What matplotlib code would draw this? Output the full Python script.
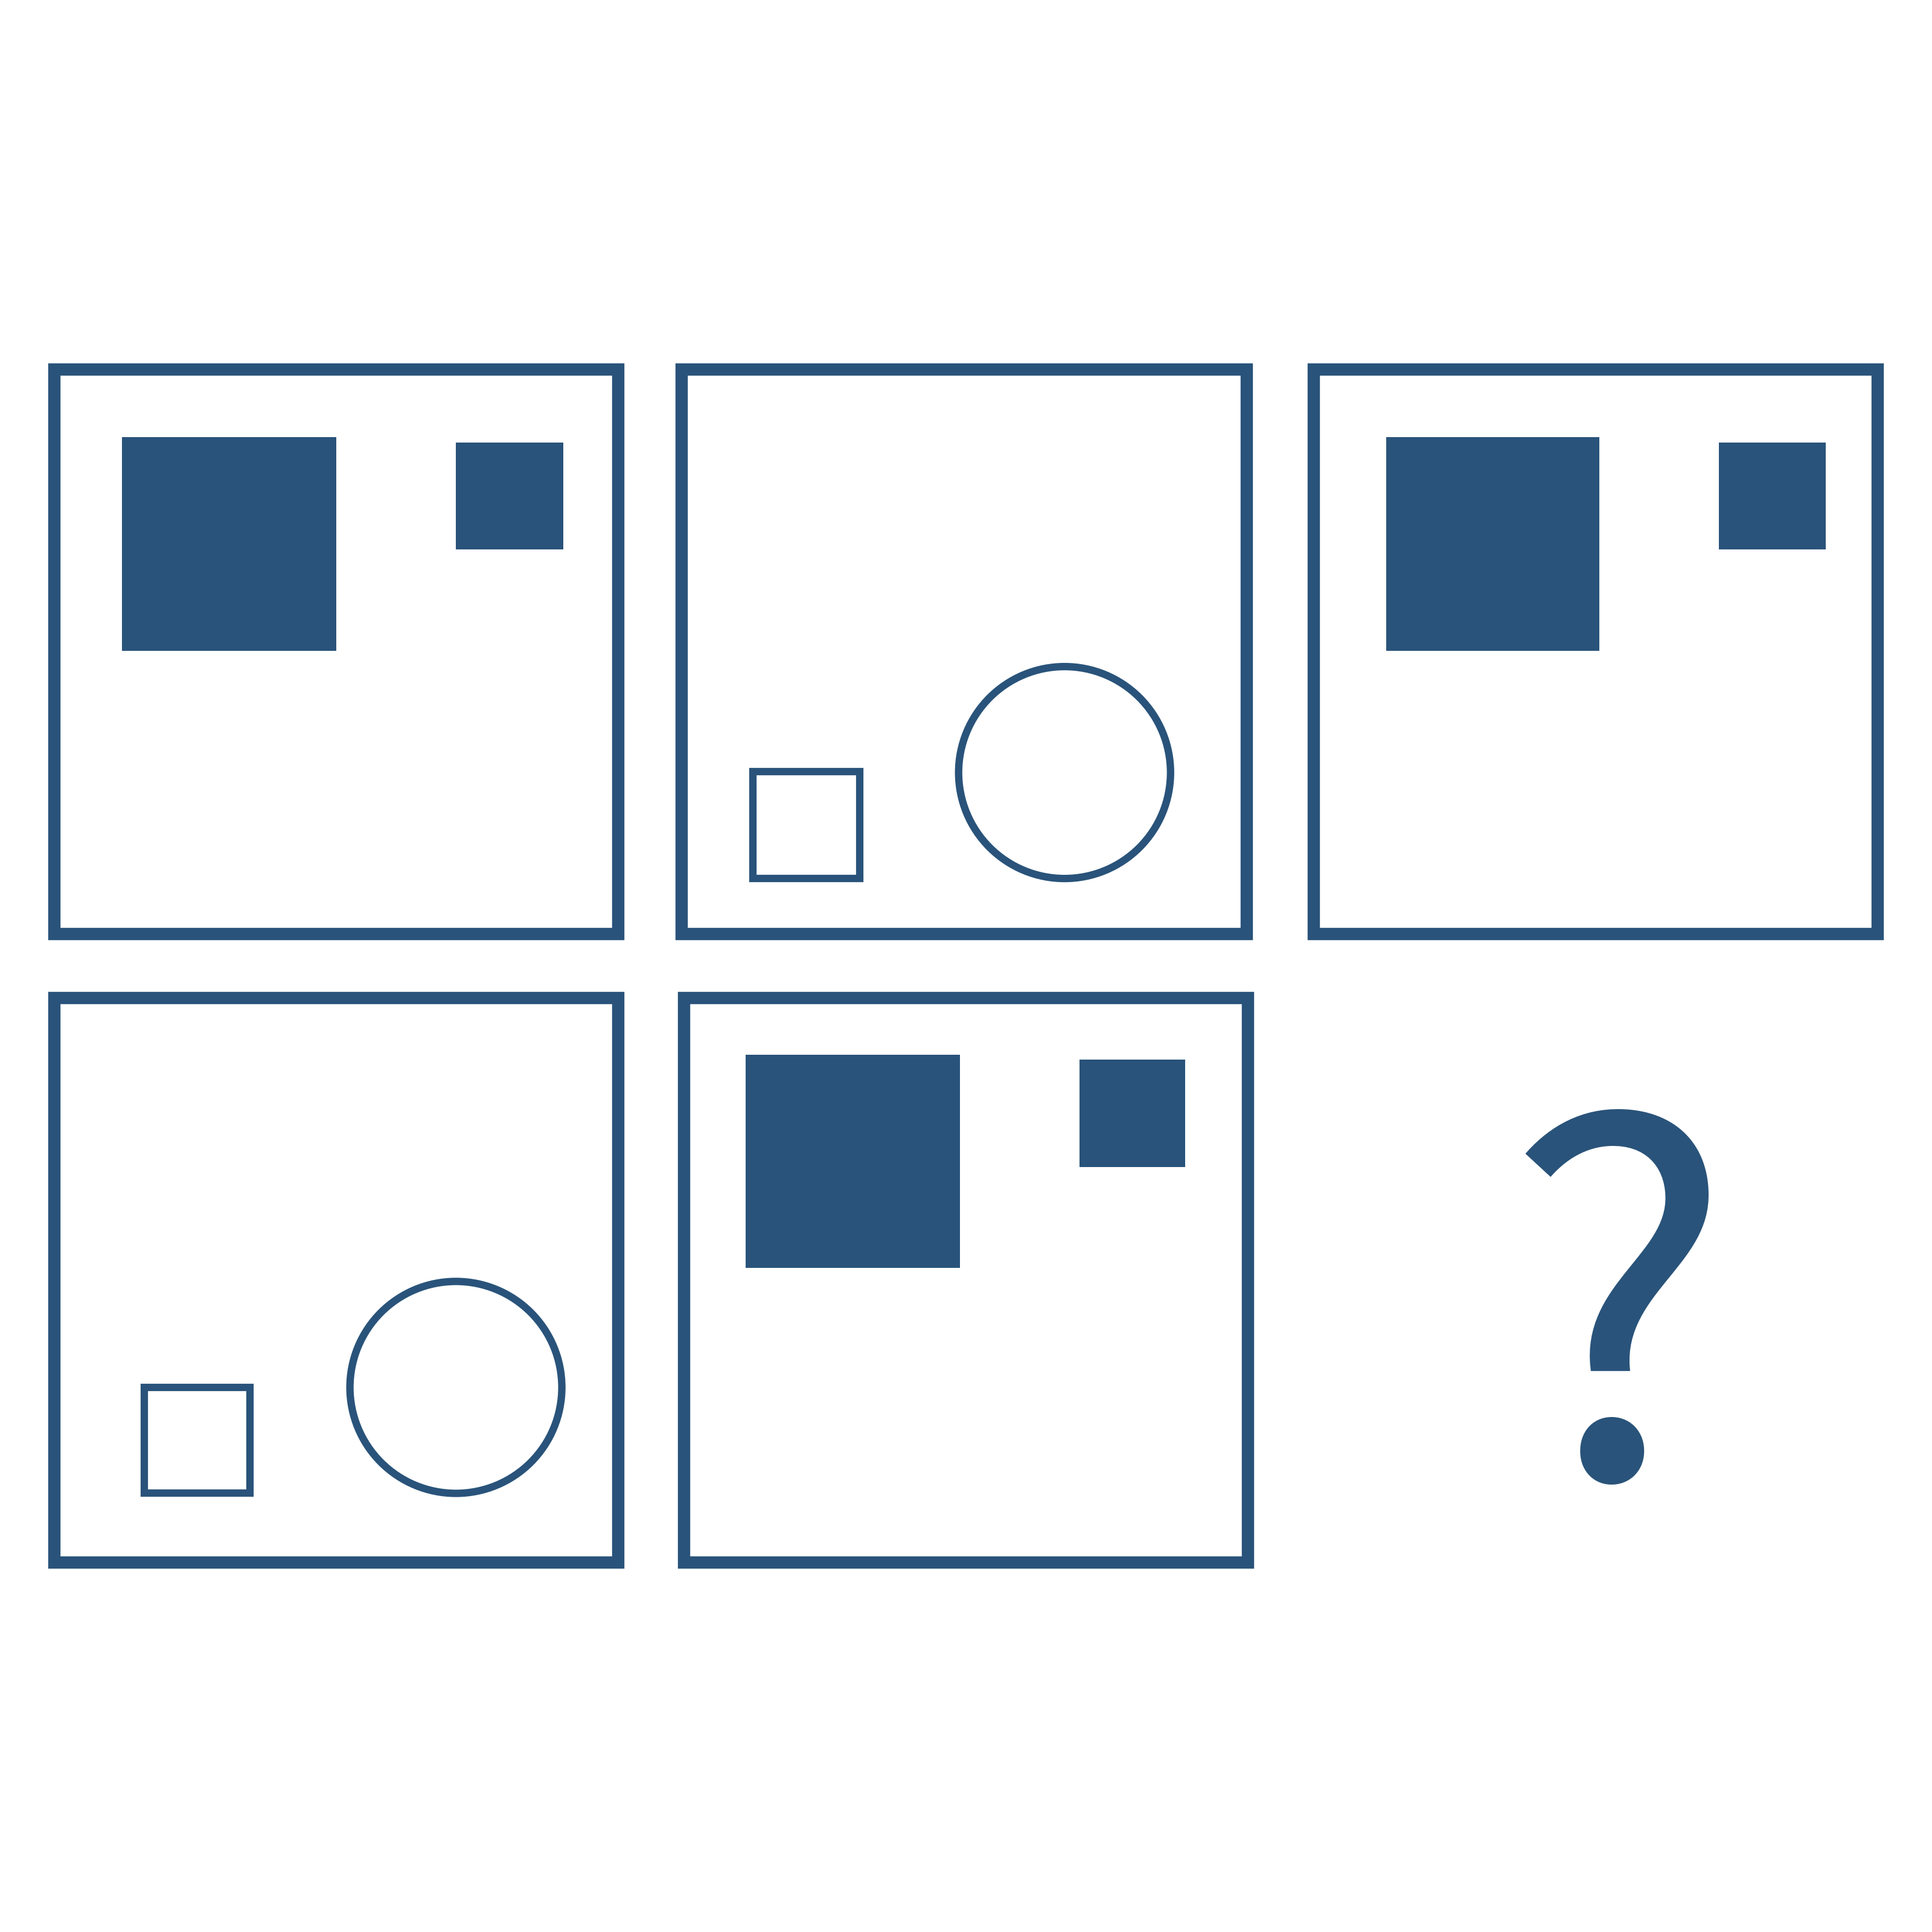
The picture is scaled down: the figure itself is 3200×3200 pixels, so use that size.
import matplotlib
matplotlib.use("Agg")
import matplotlib.pyplot as plt
from matplotlib.patches import Rectangle, Circle

COLOR = "#29537a"
S = 1568.0  # reference coordinate space (square)

# Panel frames: (x0, y0, x1, y1) outer edges
frames = [
    (39, 295, 507, 763),
    (548, 295, 1017, 763),
    (1061, 295, 1529, 763),
    (39, 805, 507, 1273),
    (550, 805, 1018, 1273),
]
frame_lw_units = 10

# Filled squares: (x0, y0, x1, y1)
filled_squares = [
    (99, 355, 273, 528), (370, 359, 457, 446),
    (1125, 355, 1298, 528), (1395, 359, 1482, 446),
    (605, 856, 779, 1029), (876, 860, 962, 947),
]

# Open squares: (x0, y0, x1, y1) outer edges
open_squares = [
    (608, 623, 701, 716),
    (114, 1123, 206, 1215),
]
# Open circles: (cx, cy, outer radius)
open_circles = [
    (864, 627, 89),
    (370, 1126, 89),
]
thin_lw_units = 6

qmark_text = "?"
qmark_pos = (1314, 1200)

fig = plt.figure(figsize=(16, 16), dpi=200)
ax = fig.add_axes([0, 0, 1, 1])
ax.set_xlim(0, S)
ax.set_ylim(S, 0)
ax.axis("off")

unit_pt = 16 * 72 / S  # points per reference unit


def stroked_rect(x0, y0, x1, y1, w):
    h = w / 2
    ax.add_patch(Rectangle((x0 + h, y0 + h), (x1 - x0) - w, (y1 - y0) - w,
                           fill=False, edgecolor=COLOR, linewidth=w * unit_pt,
                           joinstyle="miter"))


for f in frames:
    stroked_rect(*f, frame_lw_units)

for (x0, y0, x1, y1) in filled_squares:
    ax.add_patch(Rectangle((x0, y0), x1 - x0, y1 - y0, facecolor=COLOR,
                           edgecolor="none"))

for s in open_squares:
    stroked_rect(*s, thin_lw_units)

for (cx, cy, r) in open_circles:
    ax.add_patch(Circle((cx, cy), r - thin_lw_units / 2, fill=False,
                        edgecolor=COLOR, linewidth=thin_lw_units * unit_pt))

ax.text(qmark_pos[0], qmark_pos[1], qmark_text, color=COLOR,
        fontsize=289, family=["Noto Sans CJK SC", "DejaVu Sans"],
        ha="center", va="baseline")

fig.savefig("out.png", dpi=200, facecolor="white")
